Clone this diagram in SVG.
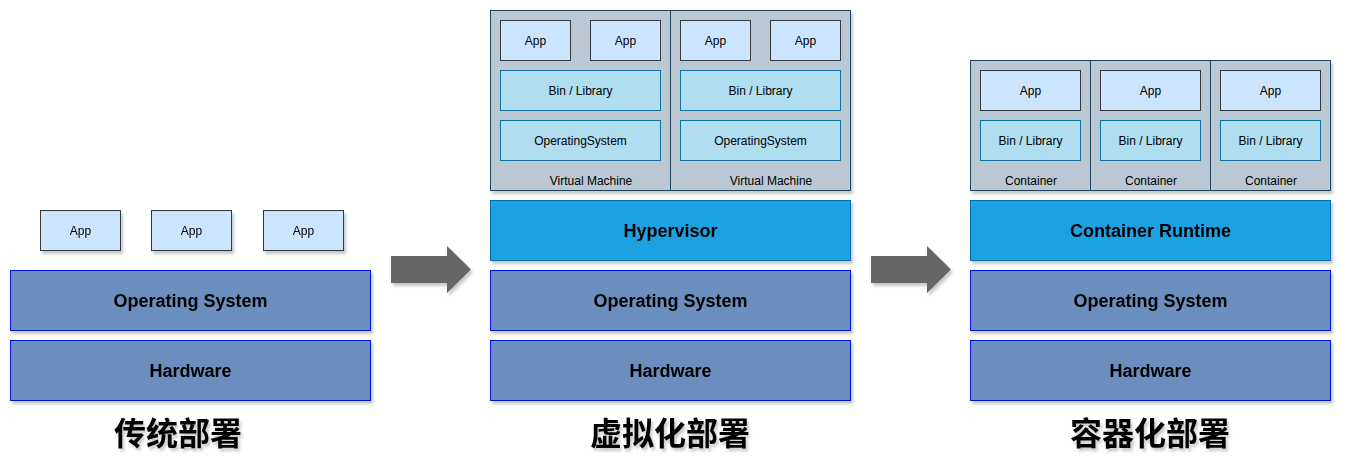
<svg xmlns="http://www.w3.org/2000/svg" width="1352" height="473" viewBox="0 0 1352 473">
<defs>
<filter id="sh" x="-10%" y="-10%" width="130%" height="140%">
<feDropShadow dx="2" dy="3" stdDeviation="1.5" flood-color="#000" flood-opacity="0.22"/>
</filter>
<style>
.app{fill:#cce5ff;stroke:#36393d;stroke-width:1}
.lib{fill:#b1ddf0;stroke:#10739e;stroke-width:1}
.host{fill:#bac8d3;stroke:#23445d;stroke-width:1}
.layer{fill:#6c8ebf;stroke:#0019d6;stroke-width:1}
.rt{fill:#1ba1e2;stroke:#006eaf;stroke-width:1}
.div{stroke:#23445d;stroke-width:1;fill:none}
.arrow{fill:#666666;stroke:none}
text{font-family:"Liberation Sans",Arial,sans-serif;fill:#000;text-anchor:middle;dominant-baseline:central}
.s{font-size:12px}
.b{font-size:18px;font-weight:bold}
.t{font-family:"Noto Sans CJK SC","Liberation Sans",sans-serif;font-size:32px;font-weight:bold}
</style>
</defs>

<g id="traditional">
<g id="t-app1" filter="url(#sh)"><rect class="app" x="40.5" y="210.5" width="80" height="40"/><text class="s" x="80.5" y="230.5">App</text></g>
<g id="t-app2" filter="url(#sh)"><rect class="app" x="151.5" y="210.5" width="80" height="40"/><text class="s" x="191.5" y="230.5">App</text></g>
<g id="t-app3" filter="url(#sh)"><rect class="app" x="263.5" y="210.5" width="80" height="40"/><text class="s" x="303.5" y="230.5">App</text></g>
<g id="t-os" filter="url(#sh)"><rect class="layer" x="10.5" y="270.5" width="360" height="60"/><text class="b" x="190.5" y="300.5">Operating System</text></g>
<g id="t-hw" filter="url(#sh)"><rect class="layer" x="10.5" y="340.5" width="360" height="60"/><text class="b" x="190.5" y="370.5">Hardware</text></g>
<g id="t-title" filter="url(#sh)"><text class="t" x="178" y="431">传统部署</text></g>
</g>

<g id="virtualization">
<g id="vm-host" filter="url(#sh)">
<rect class="host" x="490.5" y="10.5" width="360" height="180"/>
<line class="div" x1="670.5" y1="10.5" x2="670.5" y2="190.5"/>
</g>
<g id="vm1">
<rect class="app" x="500.5" y="20.5" width="70" height="40"/><text class="s" x="535.5" y="40.5">App</text>
<rect class="app" x="590.5" y="20.5" width="70" height="40"/><text class="s" x="625.5" y="40.5">App</text>
<rect class="lib" x="500.5" y="70.5" width="160" height="40"/><text class="s" x="580.5" y="90.5">Bin / Library</text>
<rect class="lib" x="500.5" y="120.5" width="160" height="40"/><text class="s" x="580.5" y="140.5">OperatingSystem</text>
<text class="s" x="591" y="180.5">Virtual Machine</text>
</g>
<g id="vm2">
<rect class="app" x="680.5" y="20.5" width="70" height="40"/><text class="s" x="715.5" y="40.5">App</text>
<rect class="app" x="770.5" y="20.5" width="70" height="40"/><text class="s" x="805.5" y="40.5">App</text>
<rect class="lib" x="680.5" y="70.5" width="160" height="40"/><text class="s" x="760.5" y="90.5">Bin / Library</text>
<rect class="lib" x="680.5" y="120.5" width="160" height="40"/><text class="s" x="760.5" y="140.5">OperatingSystem</text>
<text class="s" x="771" y="180.5">Virtual Machine</text>
</g>
<g id="v-hyp" filter="url(#sh)"><rect class="rt" x="490.5" y="200.5" width="360" height="60"/><text class="b" x="670.5" y="230.5">Hypervisor</text></g>
<g id="v-os" filter="url(#sh)"><rect class="layer" x="490.5" y="270.5" width="360" height="60"/><text class="b" x="670.5" y="300.5">Operating System</text></g>
<g id="v-hw" filter="url(#sh)"><rect class="layer" x="490.5" y="340.5" width="360" height="60"/><text class="b" x="670.5" y="370.5">Hardware</text></g>
<g id="v-title" filter="url(#sh)"><text class="t" x="670" y="431">虚拟化部署</text></g>
</g>

<g id="containerization">
<g id="c-host" filter="url(#sh)">
<rect class="host" x="970.5" y="60.5" width="360" height="130"/>
<line class="div" x1="1090.5" y1="60.5" x2="1090.5" y2="190.5"/>
<line class="div" x1="1210.5" y1="60.5" x2="1210.5" y2="190.5"/>
</g>
<g id="c1">
<rect class="app" x="980.5" y="70.5" width="100" height="40"/><text class="s" x="1030.5" y="90.5">App</text>
<rect class="lib" x="980.5" y="120.5" width="100" height="40"/><text class="s" x="1030.5" y="140.5">Bin / Library</text>
<text class="s" x="1031" y="180.5">Container</text>
</g>
<g id="c2">
<rect class="app" x="1100.5" y="70.5" width="100" height="40"/><text class="s" x="1150.5" y="90.5">App</text>
<rect class="lib" x="1100.5" y="120.5" width="100" height="40"/><text class="s" x="1150.5" y="140.5">Bin / Library</text>
<text class="s" x="1151" y="180.5">Container</text>
</g>
<g id="c3">
<rect class="app" x="1220.5" y="70.5" width="100" height="40"/><text class="s" x="1270.5" y="90.5">App</text>
<rect class="lib" x="1220.5" y="120.5" width="100" height="40"/><text class="s" x="1270.5" y="140.5">Bin / Library</text>
<text class="s" x="1271" y="180.5">Container</text>
</g>
<g id="c-rt" filter="url(#sh)"><rect class="rt" x="970.5" y="200.5" width="360" height="60"/><text class="b" x="1150.5" y="230.5">Container Runtime</text></g>
<g id="c-os" filter="url(#sh)"><rect class="layer" x="970.5" y="270.5" width="360" height="60"/><text class="b" x="1150.5" y="300.5">Operating System</text></g>
<g id="c-hw" filter="url(#sh)"><rect class="layer" x="970.5" y="340.5" width="360" height="60"/><text class="b" x="1150.5" y="370.5">Hardware</text></g>
<g id="c-title" filter="url(#sh)"><text class="t" x="1150" y="431">容器化部署</text></g>
</g>

<g id="connectors" filter="url(#sh)">
<polygon class="arrow" points="391,256 447,256 447,246 471,269.5 447,293 447,283 391,283"/>
<polygon class="arrow" points="871,256 927,256 927,246 951,269.5 927,293 927,283 871,283"/>
</g>
</svg>
